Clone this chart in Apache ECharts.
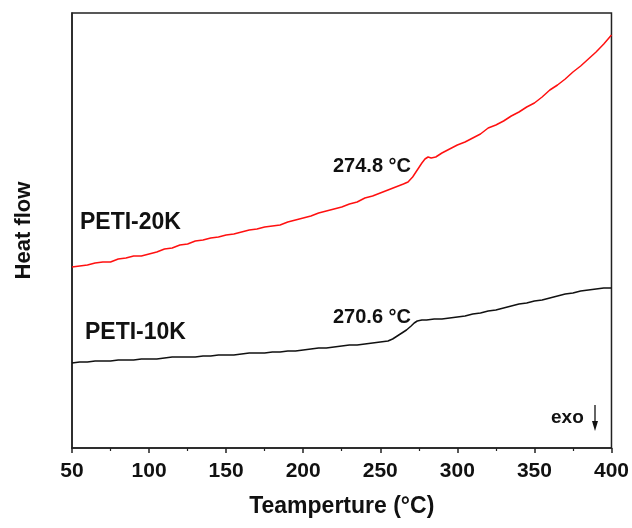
<!DOCTYPE html>
<html>
<head>
<meta charset="utf-8">
<script src="https://cdn.jsdelivr.net/npm/echarts@6/dist/echarts.min.js"></script>
<style>html,body{margin:0;padding:0;background:#fff}#c{width:632px;height:528px}</style>
</head>
<body>
<div id="c"></div>
<script>
// Temperature (°C) and heat flow (arbitrary units)
const tempRed = [50,55,60,65,70,75,80,85,90,95,100,105,110,115,120,125,130,135,140,145,150,155,160,165,170,175,180,185,190,195,200,205,210,215,220,225,230,235,240,245,250,255,260,265,268,271,274,277,279,281,283,286,290,295,300,305,310,315,320,325,330,335,340,345,350,355,360,365,370,375,380,385,390,395,400];
const heatRed = [181,182,183,185,186,186,189,190,192,192,194,196,199,200,203,204,207,208,210,211,213,214,216,218,219,221,222,223,226,228,230,232,235,237,239,241,244,246,250,252,255,258,261,264,266,271,278,285,289,291,290,291,295,299,303,306,310,314,320,323,327,332,336,341,345,351,358,363,369,376,382,389,396,404,413];
const tempBlack = [50,55,60,65,70,75,80,85,90,95,100,105,110,115,120,125,130,135,140,145,150,155,160,165,170,175,180,185,190,195,200,205,210,215,220,225,230,235,240,245,250,255,258,261,264,267,270,272,274,277,280,285,290,295,300,305,310,315,320,325,330,335,340,345,350,355,360,365,370,375,380,385,390,395,400];
const heatBlack = [85,86,86,87,87,87,88,88,88,89,89,89,90,91,91,91,91,92,92,93,93,93,94,95,95,95,96,96,97,97,98,99,100,100,101,102,103,103,104,105,106,107,109,112,115,118,122,125,127,128,128,129,129,130,131,132,134,135,137,138,140,142,144,145,147,148,150,152,154,155,157,158,159,160,160];
const xTicks = {min: 50, max: 400, interval: 50};

const chart = echarts.init(document.getElementById('c'));
const font = '"Liberation Sans", Arial, sans-serif';
chart.setOption({
  animation: false,
  grid: {left: 72, right: 20, top: 13, bottom: 80, show: true, borderColor: '#222', borderWidth: 1.5, backgroundColor: 'transparent'},
  xAxis: {
    type: 'value', min: xTicks.min, max: xTicks.max, interval: xTicks.interval,
    name: 'Teamperture (°C)', nameLocation: 'middle', nameGap: 47,
    nameTextStyle: {fontFamily: font, fontWeight: 'bold', fontSize: 23, color: '#111'},
    axisLine: {show: true, lineStyle: {color: '#222', width: 1.5}},
    axisTick: {show: true, inside: false, length: 5, lineStyle: {color: '#222', width: 1.5}},
    minorTick: {show: true, splitNumber: 2, length: 3, lineStyle: {color: '#222', width: 1.2}},
    axisLabel: {fontFamily: font, fontWeight: 'bold', fontSize: 21, color: '#111', margin: 13},
    splitLine: {show: false}
  },
  yAxis: {
    type: 'value', min: 0, max: 435,
    name: 'Heat flow', nameLocation: 'middle', nameGap: 37, nameRotate: 90,
    nameTextStyle: {fontFamily: font, fontWeight: 'bold', fontSize: 22, color: '#111'},
    axisLine: {show: true, lineStyle: {color: '#222', width: 1.5}},
    axisTick: {show: false}, axisLabel: {show: false}, splitLine: {show: false}
  },
  series: [
    {type: 'line', data: tempRed.map((t, i) => [t, heatRed[i]]), showSymbol: false, lineStyle: {color: '#ff1010', width: 1.5}},
    {type: 'line', data: tempBlack.map((t, i) => [t, heatBlack[i]]), showSymbol: false, lineStyle: {color: '#111', width: 1.5}}
  ],
  graphic: [
    {type: 'text', left: 80, top: 211, style: {text: 'PETI-20K', font: 'bold 23px ' + font, fill: '#111'}},
    {type: 'text', left: 85, top: 321, style: {text: 'PETI-10K', font: 'bold 23px ' + font, fill: '#111'}},
    {type: 'text', left: 333, top: 156, style: {text: '274.8 °C', font: 'bold 20px ' + font, fill: '#111'}},
    {type: 'text', left: 333, top: 307, style: {text: '270.6 °C', font: 'bold 20px ' + font, fill: '#111'}},
    {type: 'text', left: 551, top: 408, style: {text: 'exo', font: 'bold 19px ' + font, fill: '#111'}},
    {type: 'line', shape: {x1: 595, y1: 405, x2: 595, y2: 423}, style: {stroke: '#111', lineWidth: 1.3}},
    {type: 'polygon', shape: {points: [[592, 421], [598, 421], [595, 431]]}, style: {fill: '#111'}}
  ]
});
</script>
</body>
</html>
